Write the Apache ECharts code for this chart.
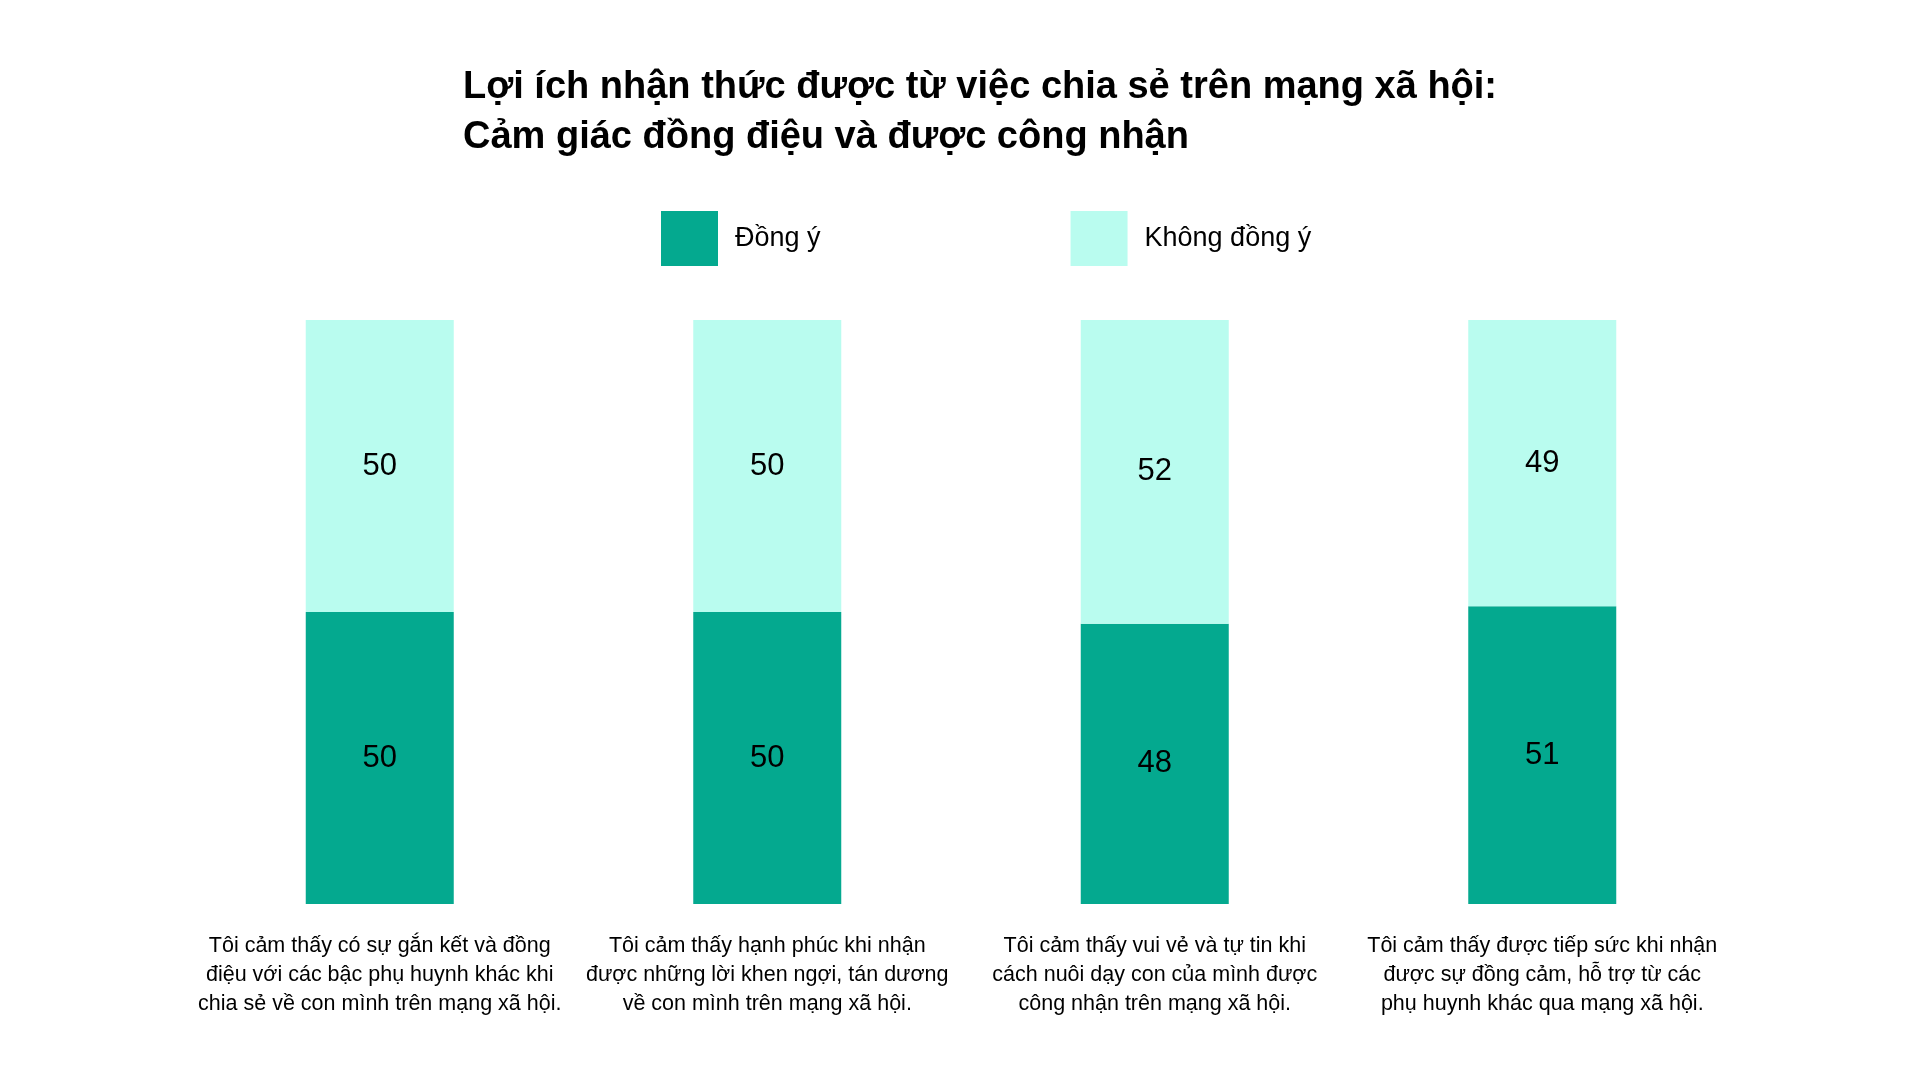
<!DOCTYPE html>
<html>
<head>
<meta charset="utf-8">
<script src="https://cdn.jsdelivr.net/npm/echarts@6/dist/echarts.min.js"></script>
<style>
  html, body { margin: 0; padding: 0; background: #fff; }
  #box { width: 1920px; height: 1080px; }
</style>
</head>
<body>
<div id="box"></div>
<script>
// dữ liệu
const categories = [
  'Tôi cảm thấy có sự gắn kết và đồng\nđiệu với các bậc phụ huynh khác khi\nchia sẻ về con mình trên mạng xã hội.',
  'Tôi cảm thấy hạnh phúc khi nhận\nđược những lời khen ngợi, tán dương\nvề con mình trên mạng xã hội.',
  'Tôi cảm thấy vui vẻ và tự tin khi\ncách nuôi dạy con của mình được\ncông nhận trên mạng xã hội.',
  'Tôi cảm thấy được tiếp sức khi nhận\nđược sự đồng cảm, hỗ trợ từ các\nphụ huynh khác qua mạng xã hội.'
];
const agree = [50, 50, 48, 51];
const disagree = [50, 50, 52, 49];

const font = '"Liberation Sans", Arial, sans-serif';

let myecharts = echarts.init(document.getElementById('box'));
let options = {
  backgroundColor: '#fff',
  textStyle: { fontFamily: font },
  title: {
    text: 'Lợi ích nhận thức được từ việc chia sẻ trên mạng xã hội:\nCảm giác đồng điệu và được công nhận',
    left: 458,
    top: 58,
    textStyle: {
      fontFamily: font,
      fontSize: 38,
      fontWeight: 'bold',
      color: '#000',
      lineHeight: 50
    }
  },
  legend: {
    left: 656,
    top: 206,
    itemWidth: 57,
    itemHeight: 55,
    itemGap: 250,
    icon: 'rect',
    textStyle: { fontFamily: font, fontSize: 27, color: '#000', padding: [0, 0, 0, 12] },
    data: ['Đồng ý', 'Không đồng ý']
  },
  grid: {
    left: 186,
    right: 184,
    top: 320,
    bottom: 176
  },
  xAxis: {
    type: 'category',
    data: categories,
    axisLine: { show: false },
    axisTick: { show: false },
    axisLabel: {
      interval: 0,
      margin: 28,
      fontFamily: font,
      fontSize: 21.5,
      lineHeight: 29,
      color: '#000',
      align: 'center'
    }
  },
  yAxis: {
    type: 'value',
    min: 0,
    max: 100,
    show: false
  },
  series: [
    {
      name: 'Đồng ý',
      type: 'bar',
      stack: 'total',
      barWidth: 148,
      data: agree,
      itemStyle: { color: '#04a98f' },
      label: {
        show: true,
        position: 'inside',
        fontFamily: font,
        fontSize: 31,
        color: '#000'
      }
    },
    {
      name: 'Không đồng ý',
      type: 'bar',
      stack: 'total',
      barWidth: 148,
      data: disagree,
      itemStyle: { color: '#b9fcef' },
      label: {
        show: true,
        position: 'inside',
        fontFamily: font,
        fontSize: 31,
        color: '#000'
      }
    }
  ]
};
myecharts.setOption(options);
</script>
</body>
</html>
